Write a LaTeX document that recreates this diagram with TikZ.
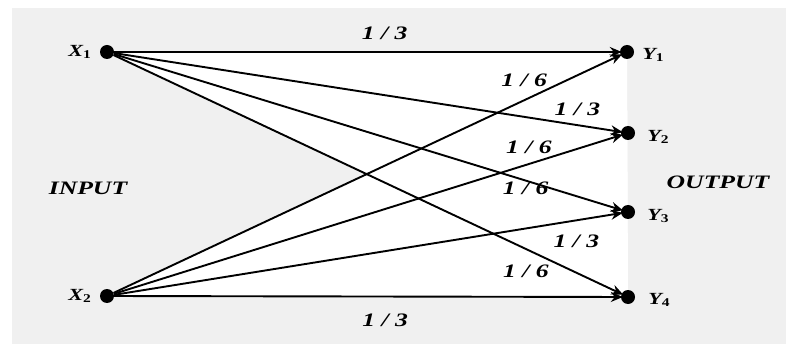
\documentclass[tikz,border=0pt]{standalone}
\usepackage{fontspec}
\setmainfont{Liberation Serif}
\usetikzlibrary{arrows.meta, positioning, backgrounds}
\definecolor{chanbg}{RGB}{240,240,240}

\begin{document}
\begin{tikzpicture}[x=1pt, y=-1pt,
  dot/.style={circle, fill=black, inner sep=0pt, minimum size=14pt},
  sym/.style={font=\fontsize{17}{20}\selectfont\bfseries\itshape, inner sep=0pt,
    xscale=1.3, transform shape},
  prob/.style={font=\fontsize{19}{22}\selectfont\bfseries\itshape, inner sep=0pt,
    xscale=1.35, transform shape},
  trans/.style={-{Stealth[length=12pt, width=10pt, inset=4pt]}, line width=1.9pt,
    shorten >=-2pt}
]
  \useasboundingbox (0,0) rectangle (786,344);

  % source and sink symbols
  \node[dot] (x1) at (107,52) {};
  \node[dot] (x2) at (107,296) {};
  \node[dot] (y1) at (627,52) {};
  \node[dot] (y2) at (628,133) {};
  \node[dot] (y3) at (628,212) {};
  \node[dot] (y4) at (628,297) {};

  \node[sym, left=8pt of x1] (x1lab) {X\textsubscript{\upshape 1}};
  \node[sym, left=8pt of x2] (x2lab) {X\textsubscript{\upshape 2}};
  \node[sym, right=8pt of y1, yshift=-3pt] (y1lab) {Y\textsubscript{\upshape 1}};
  \node[sym, right=12pt of y2, yshift=-4pt] (y2lab) {Y\textsubscript{\upshape 2}};
  \node[sym, right=12pt of y3, yshift=-4pt] (y3lab) {Y\textsubscript{\upshape 3}};
  \node[sym, right=13pt of y4, yshift=-3pt] (y4lab) {Y\textsubscript{\upshape 4}};

  \node[prob] (inlab) at (88,188) {INPUT};
  \node[prob] (outlab) at (718,182) {OUTPUT};

  \begin{scope}[on background layer]
    \fill[chanbg] (12,8) rectangle (786,344);
    \fill[white] (x1.center) -- (y1.center) -- (y4.center) -- cycle;
    \fill[white] (x2.center) -- (y1.center) -- (y4.center) -- cycle;
  \end{scope}

  % transitions from X1
  \draw[trans] (x1) -- node[prob, pos=0.535, yshift=19pt] (p11) {1 / 3} (y1);
  \draw[trans] (x1) -- node[prob, pos=0.914, yshift=16pt] (p12) {1 / 3} (y2);
  \draw[trans] (x1) -- node[prob, pos=0.812, yshift=-8pt] (p13) {1 / 6} (y3);
  \draw[trans] (x1) -- node[prob, pos=0.812, yshift=-22pt] (p14) {1 / 6} (y4);

  % transitions from X2
  \draw[trans] (x2) -- node[prob, pos=0.81, yshift=20pt] (p21) {1 / 6} (y1);
  \draw[trans] (x2) -- node[prob, pos=0.818, yshift=17pt] (p22) {1 / 6} (y2);
  \draw[trans] (x2) -- node[prob, pos=0.912, yshift=-21pt] (p23) {1 / 3} (y3);
  \draw[trans] (x2) -- node[prob, pos=0.535, yshift=-24pt] (p24) {1 / 3} (y4);
\end{tikzpicture}
\end{document}
